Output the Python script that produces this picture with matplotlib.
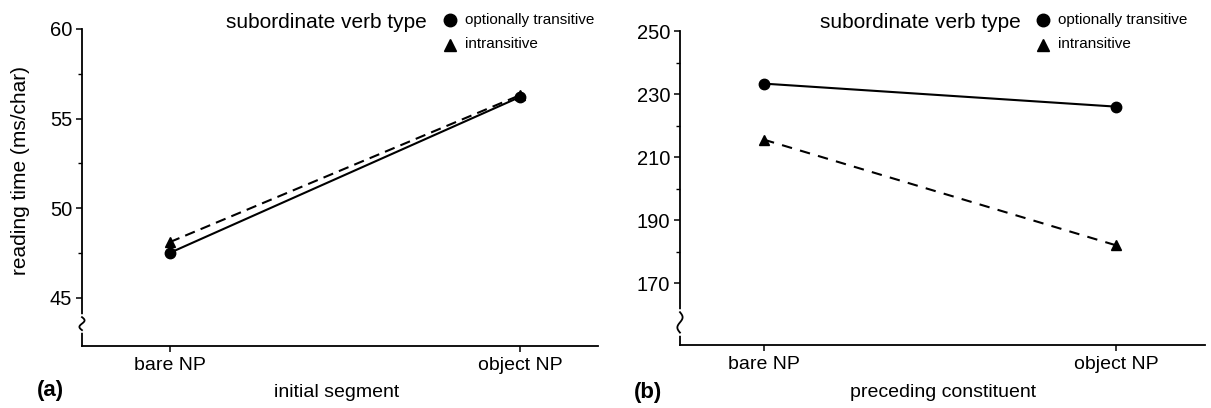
import matplotlib.pyplot as plt
from matplotlib.lines import Line2D
import numpy as np

plt.rcParams['font.family'] = ['Liberation Sans', 'DejaVu Sans']

conditions = ['bare NP', 'object NP']
series_names = ['optionally transitive', 'intransitive']

# panel (a): initial segment, ms/char
a_opt = [47.5, 56.2]
a_intr = [48.1, 56.3]
a_yticks = [45, 50, 55, 60]
a_yminor = [47.5, 52.5, 57.5]

# panel (b): preceding constituent
b_opt = [233.3, 226.0]
b_intr = [215.5, 182.0]
b_yticks = [170, 190, 210, 230, 250]
b_yminor = [180, 200, 220, 240]

fig = plt.figure(figsize=(12.11, 4.08), dpi=100)
ax1 = fig.add_axes([0.0677, 0.152, 0.426, 0.777])
ax2 = fig.add_axes([0.5615, 0.154, 0.4335, 0.770])


def squiggle(ax, y0, y1):
    # axis break mark on the y spine
    ax.plot([0, 0], [y0, y1], color='white', lw=4, transform=ax.transAxes, clip_on=False, zorder=5)
    t = np.linspace(0, 1, 40)
    xs = -0.005 * np.sin(2 * np.pi * t)
    ys = y0 + (y1 - y0) * t
    ax.plot(xs, ys, color='black', lw=1.3, transform=ax.transAxes, clip_on=False, zorder=6)


def style(ax, xlim, ylim, yticks, yminor):
    ax.set_xlim(*xlim)
    ax.set_ylim(*ylim)
    ax.set_xticks(np.arange(len(conditions)))
    ax.set_xticklabels(conditions, fontsize=14)
    ax.set_yticks(yticks)
    ax.set_yticklabels([str(v) for v in yticks], fontsize=14.5)
    ax.set_yticks(yminor, minor=True)
    ax.spines['top'].set_visible(False)
    ax.spines['right'].set_visible(False)
    ax.spines['left'].set_linewidth(1.3)
    ax.spines['bottom'].set_linewidth(1.3)
    ax.tick_params(axis='both', direction='out', length=4, width=1.1, pad=3)
    ax.tick_params(axis='y', which='minor', length=3, width=1.0)
    ax.tick_params(axis='x', pad=4)


x = np.arange(len(conditions))

# panel (a)
ax1.plot(x, a_opt, '-', color='black', lw=1.5, marker='o', ms=7.5)
ax1.plot(x, a_intr, '--', color='black', lw=1.5, marker='^', ms=7.5, dashes=(5, 3))
style(ax1, (-0.251, 1.223), (42.3, 60), a_yticks, a_yminor)
squiggle(ax1, 0.05, 0.091)
fig.text(0.0173, 0.583, 'reading time (ms/char)', rotation=90, fontsize=15,
         ha='center', va='center')
fig.text(0.278, 0.037, 'initial segment', fontsize=14, ha='center', va='center')
fig.text(0.042, 0.042, '(a)', fontsize=16, fontweight='bold', ha='center', va='center')

# panel (b)
ax2.plot(x, b_opt, '-', color='black', lw=1.5, marker='o', ms=7.5)
ax2.plot(x, b_intr, '--', color='black', lw=1.5, marker='^', ms=6.5, dashes=(5, 4))
style(ax2, (-0.239, 1.253), (150.3, 250), b_yticks, b_yminor)
squiggle(ax2, 0.04, 0.105)
fig.text(0.779, 0.037, 'preceding constituent', fontsize=14, ha='center', va='center')
fig.text(0.535, 0.037, '(b)', fontsize=16, fontweight='bold', ha='center', va='center')

# legends (title at left, entries stacked to its right)
markers = ['o', '^']
for tx, mx in [(226, 450), (820, 1043)]:
    fig.text(tx / 1211, 1 - 22 / 408, 'subordinate verb type', fontsize=15,
             ha='left', va='center')
    for i, (name, m) in enumerate(zip(series_names, markers)):
        yy = 1 - (20 + 24.5 * i) / 408
        fig.add_artist(Line2D([mx / 1211], [yy], marker=m, color='black', ms=9,
                              ls='none', transform=fig.transFigure))
        fig.text((mx + 15) / 1211, yy, name, fontsize=11, ha='left', va='center')

fig.savefig('out.png', dpi=100)
